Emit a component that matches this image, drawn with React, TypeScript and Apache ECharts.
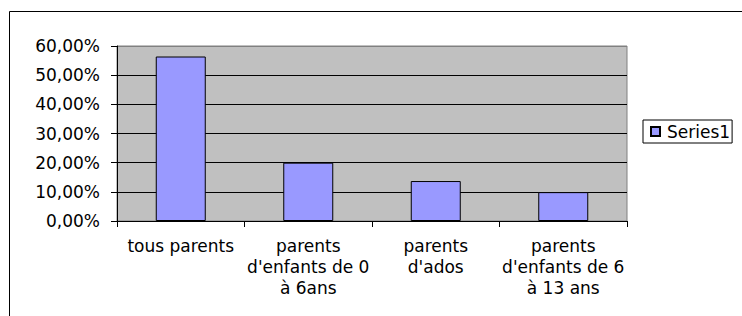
import React, { useEffect, useRef } from "react";
import * as echarts from "echarts";

const categories = [
  "tous parents",
  "parents\nd'enfants de 0\nà 6ans",
  "parents\nd'ados",
  "parents\nd'enfants de 6\nà 13 ans",
];
const seriesName = "Series1";
const seriesValues = [56.4, 20.0, 13.7, 9.9];
const yMin = 0;
const yMax = 60;
const yInterval = 10;

const FONT = "'DejaVu Sans', Verdana, sans-serif";

export default function App() {
  const ref = useRef<HTMLDivElement>(null);
  useEffect(() => {
    if (!ref.current) return;
    const chart = echarts.init(ref.current, undefined, { renderer: "svg" });
    chart.setOption({
      animation: false,
      backgroundColor: "#ffffff",
      textStyle: { fontFamily: FONT },
      graphic: [
        {
          type: "rect",
          z: -10,
          shape: { x: 9.5, y: 11.5, width: 800, height: 400 },
          style: { fill: "none", stroke: "#000000", lineWidth: 1 },
        },
      ],
      grid: {
        left: 117,
        top: 46,
        right: 115,
        bottom: 95,
        show: true,
        backgroundColor: "#c0c0c0",
        borderColor: "#808080",
        borderWidth: 1,
      },
      legend: {
        show: true,
        left: 643,
        top: 120,
        orient: "vertical",
        padding: [3, 2, 3, 7],
        borderColor: "#000000",
        borderWidth: 1,
        backgroundColor: "#ffffff",
        itemWidth: 9,
        itemHeight: 9,
        itemGap: 0,
        icon: "rect",
        textStyle: {
          fontFamily: FONT,
          fontSize: 17,
          color: "#000000",
          lineHeight: 14,
          padding: [0, 0, 0, 2],
        },
        data: [seriesName],
      },
      xAxis: {
        type: "category",
        data: categories,
        boundaryGap: true,
        axisLine: { show: true, lineStyle: { color: "#000000", width: 1 } },
        axisTick: { show: true, length: 6, lineStyle: { color: "#000000" } },
        axisLabel: {
          interval: 0,
          margin: 14,
          color: "#000000",
          fontFamily: FONT,
          fontSize: 17,
          lineHeight: 21,
          align: "center",
        },
        splitLine: { show: false },
      },
      yAxis: {
        type: "value",
        min: yMin,
        max: yMax,
        interval: yInterval,
        axisLine: { show: true, lineStyle: { color: "#000000", width: 1 } },
        axisTick: { show: true, length: 6, lineStyle: { color: "#000000" } },
        axisLabel: {
          margin: 17,
          color: "#000000",
          fontFamily: FONT,
          fontSize: 17,
          formatter: (v: number) => v.toFixed(2).replace(".", ",") + "%",
        },
        splitLine: {
          show: true,
          lineStyle: {
            color: ["#000000", "#000000", "#000000", "#000000", "#000000", "#000000", "#808080"],
            width: 1,
          },
        },
      },
      series: [
        {
          name: seriesName,
          type: "bar",
          data: seriesValues,
          barWidth: 50,
          itemStyle: { color: "#9999ff", borderColor: "#000000", borderWidth: 1 },
        },
      ],
    });
    return () => chart.dispose();
  }, []);
  return (
    <div
      ref={ref}
      style={{ position: "fixed", left: 0, top: 0, width: 742, height: 316 }}
    />
  );
}
